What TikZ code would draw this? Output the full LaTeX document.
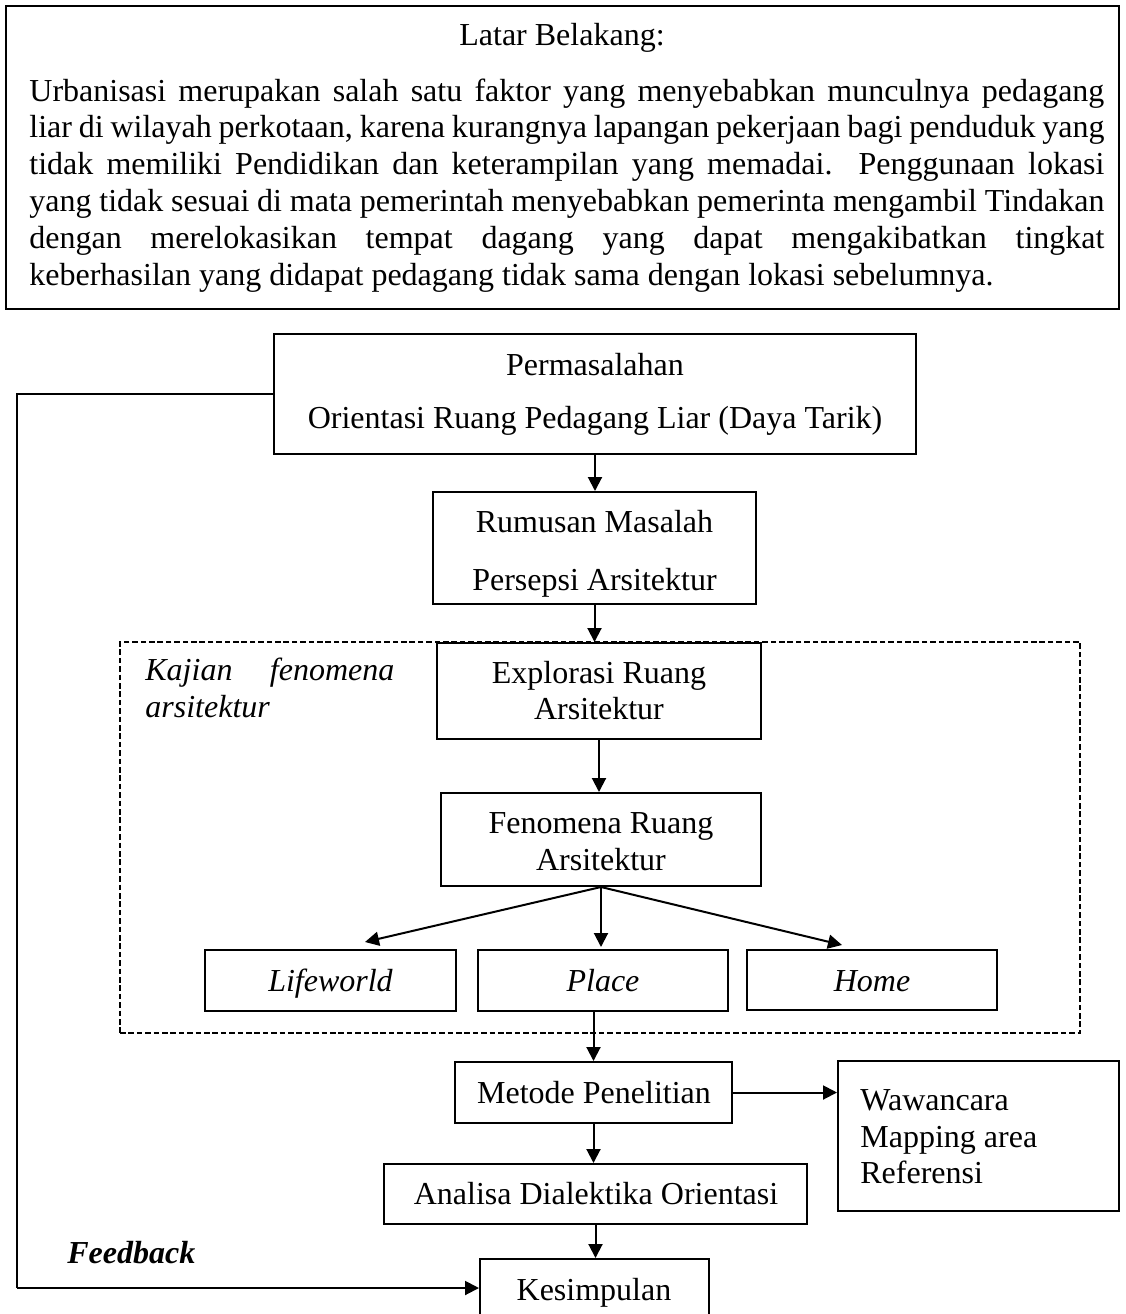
\documentclass[tikz,border=0pt]{standalone}
\usepackage{fontspec}
\setmainfont{Liberation Serif}
\usetikzlibrary{arrows.meta,calc}
\begin{document}
\begin{tikzpicture}[x=0.5pt,y=-0.5pt,
  every node/.style={font=\fontsize{16pt}{18pt}\selectfont, inner sep=0pt},
  box/.style={draw, line width=1pt, rectangle},
  dashbox/.style={draw, line width=1pt, dash pattern=on 2.8pt off 1.4pt, rectangle},
  txt/.style={anchor=base},
  ltxt/.style={anchor=base west},
  arr/.style={line width=1pt, -{Triangle[length=7pt,width=7pt]}},
  pline/.style={anchor=base west}]
\useasboundingbox (0,0) rectangle (1126,1314);
\clip (0,0) rectangle (1126,1314);
\fill[white] (0,0) rectangle (1126,1314);

% Latar belakang
\node[box, minimum width=556.5pt, minimum height=151.5pt] (latar) at (562.5,157.5) {};
\node[txt] (latartitle) at (562,45) {Latar Belakang:};
\node[pline] (p1) at (29,101) {\makebox[537.5pt][s]{Urbanisasi merupakan salah satu faktor yang menyebabkan munculnya pedagang}};
\node[pline] (p2) at (29,137.8) {\makebox[537.5pt][s]{liar di wilayah perkotaan, karena kurangnya lapangan pekerjaan bagi penduduk yang}};
\node[pline] (p3) at (29,174.6) {\makebox[537.5pt][s]{tidak memiliki Pendidikan dan keterampilan yang memadai. Penggunaan lokasi}};
\node[pline] (p4) at (29,211.4) {\makebox[537.5pt][s]{yang tidak sesuai di mata pemerintah menyebabkan pemerinta mengambil Tindakan}};
\node[pline] (p5) at (29,248.2) {\makebox[537.5pt][s]{dengan merelokasikan tempat dagang yang dapat mengakibatkan tingkat}};
\node[pline] (p6) at (29,285) {keberhasilan yang didapat pedagang tidak sama dengan lokasi sebelumnya.};

% Permasalahan
\node[box, minimum width=321pt, minimum height=60pt] (perm) at (595,394) {};
\node[txt] (permt1) at (595,375) {Permasalahan};
\node[txt] (permt2) at (595,428) {Orientasi Ruang Pedagang Liar (Daya Tarik)};

% Rumusan
\node[box, minimum width=161.5pt, minimum height=56pt] (rumus) at (594.5,548) {};
\node[txt] (rumust1) at (594.5,532) {Rumusan Masalah};
\node[txt] (rumust2) at (594.5,590) {Persepsi Arsitektur};

% Kajian (dashed)
\node[dashbox, minimum width=480pt, minimum height=195.5pt] (kajian) at (600,837.5) {};
\node[pline] (kaj1) at (145,680) {\itshape\makebox[124.5pt][s]{Kajian fenomena}};
\node[pline] (kaj2) at (145,717) {\itshape arsitektur};

\node[box, fill=white, minimum width=162pt, minimum height=48pt] (explor) at (599,691) {};
\node[txt] (explort1) at (599,683) {Explorasi Ruang};
\node[txt] (explort2) at (599,719) {Arsitektur};

\node[box, minimum width=160pt, minimum height=46.5pt] (fenom) at (601,839.5) {};
\node[txt] (fenomt1) at (601,833) {Fenomena Ruang};
\node[txt] (fenomt2) at (601,870) {Arsitektur};

\node[box, minimum width=125.5pt, minimum height=30.5pt] (life) at (330.5,980.5) {};
\node[txt] (lifet) at (330.5,991) {\itshape Lifeworld};
\node[box, minimum width=125pt, minimum height=30.5pt] (place) at (603,980.5) {};
\node[txt] (placet) at (603,991) {\itshape Place};
\node[box, minimum width=125pt, minimum height=30pt] (home) at (872,980) {};
\node[txt] (homet) at (872,991) {\itshape Home};

% Metode etc.
\node[box, minimum width=138.5pt, minimum height=30.5pt] (metode) at (593.5,1092.5) {};
\node[txt] (metodet) at (594,1103) {Metode Penelitian};

\node[box, minimum width=140.5pt, minimum height=75pt] (waw) at (978.5,1136) {};
\node[ltxt] (wawt1) at (860,1110) {Wawancara};
\node[ltxt] (wawt2) at (860,1147) {Mapping area};
\node[ltxt] (wawt3) at (860,1183) {Referensi};

\node[box, minimum width=211.5pt, minimum height=30pt] (anal) at (595.5,1194) {};
\node[txt] (analt) at (596,1204) {Analisa Dialektika Orientasi};

\node[box, minimum width=114.5pt, minimum height=40.5pt] (kes) at (594.5,1299.5) {};
\node[txt] (kest) at (594,1300) {Kesimpulan};

\node[ltxt] (feedback) at (67,1263) {\bfseries\itshape Feedback};

% connectors
\coordinate (lifetip) at (365,942);
\coordinate (hometip) at (842,945);
\coordinate (fbtop) at (17,394);
\coordinate (fbbot) at (17,1288);

\draw[arr] (perm.south) -- (perm.south |- rumus.north);
\draw[arr] (rumus.south) -- (rumus.south |- explor.north);
\draw[arr] (explor.south) -- (explor.south |- fenom.north);
\draw[arr] (fenom.south) -- (lifetip);
\draw[arr] (fenom.south) -- ($(fenom.south |- place.north)+(0,-2)$);
\draw[arr] (fenom.south) -- (hometip);
\draw[arr] (metode.north |- place.south) -- (metode.north);
\draw[arr] (metode.east) -- (metode.east -| waw.west);
\draw[arr] (metode.south) -- (metode.south |- anal.north);
\draw[arr] (anal.south) -- (anal.south |- kes.north);
\draw[line width=1pt] (perm.west) -- (fbtop) -- (fbbot);
\draw[arr] (fbbot) -- (fbbot -| kes.west);
\end{tikzpicture}
\end{document}
